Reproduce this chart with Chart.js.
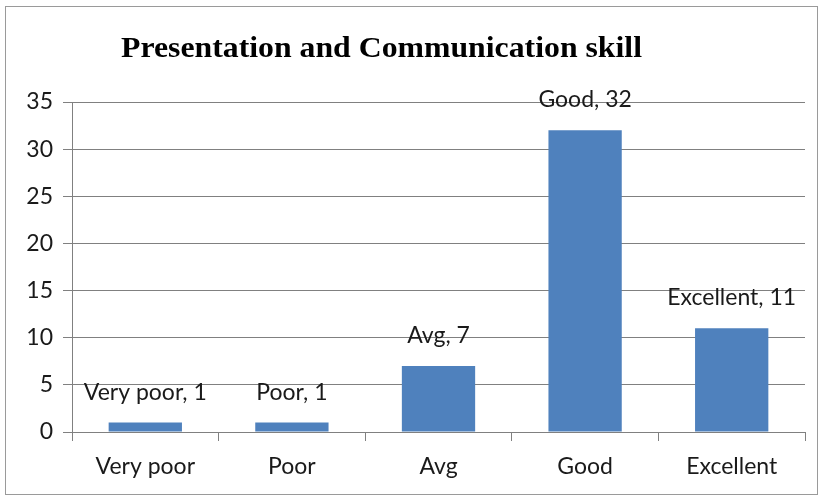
<!DOCTYPE html>
<html>
<head>
<meta charset="utf-8">
<script src="https://cdn.jsdelivr.net/npm/chart.js@4"></script>
<style>
  body { margin: 0; background: #fff; }
</style>
</head>
<body>
<canvas id="skill" width="823" height="500"></canvas>
<script>
let categories = ['Very poor', 'Poor', 'Avg', 'Good', 'Excellent'];
let counts = [1, 1, 7, 32, 11];
let yTicks = [0, 5, 10, 15, 20, 25, 30, 35];
let chartTitle = 'Presentation and Communication skill';

let labelFont = '23px Lato';

// frame, title and "Name, value" labels above bars
let extras = {
    id: 'extras',
    beforeDraw: function (chart) {
        let ctx = chart.ctx;
        ctx.save();
        ctx.fillStyle = '#fff';
        ctx.fillRect(0, 0, chart.width, chart.height);
        ctx.strokeStyle = '#9a9a9a';
        ctx.lineWidth = 1;
        ctx.strokeRect(5.5, 6.5, 812, 488);
        ctx.restore();
    },
    afterDraw: function (chart) {
        let ctx = chart.ctx;
        ctx.save();
        ctx.font = 'bold 30px "Liberation Serif"';
        ctx.fillStyle = '#000';
        ctx.textBaseline = 'alphabetic';
        let w = ctx.measureText(chartTitle).width;
        let sx = 521 / w;
        ctx.translate(121, 57);
        ctx.scale(sx, 1);
        ctx.fillText(chartTitle, 0, 0);
        ctx.restore();

        ctx.save();
        ctx.font = labelFont;
        ctx.fillStyle = '#1a1a1a';
        ctx.textAlign = 'center';
        ctx.textBaseline = 'alphabetic';
        chart.getDatasetMeta(0).data.forEach(function (bar, i) {
            ctx.fillText(categories[i] + ', ' + counts[i], bar.x, bar.y - 23);
        });
        ctx.restore();
    }
};

let ctxSkill = document.getElementById('skill').getContext('2d');
let skillChart = new Chart(ctxSkill, {
    type: 'bar',
    data: {
        labels: categories,
        datasets: [{
            label: chartTitle,
            data: counts,
            backgroundColor: '#4f81bd',
            barPercentage: 0.5,
            categoryPercentage: 1
        }]
    },
    options: {
        responsive: false,
        animation: false,
        layout: {
            padding: { top: 102, right: 18, left: 0, bottom: 0 }
        },
        plugins: {
            legend: { display: false },
            title: { display: false },
            tooltip: { enabled: false }
        },
        scales: {
            x: {
                afterFit: function (scale) { scale.height = 68; },
                grid: {
                    offset: true,
                    drawOnChartArea: false,
                    tickLength: 9,
                    color: '#808080'
                },
                border: { color: '#808080' },
                ticks: {
                    color: '#1a1a1a',
                    font: { family: 'Lato', size: 23 },
                    padding: 12
                }
            },
            y: {
                min: 0,
                max: 35,
                afterFit: function (scale) { scale.width = 72; },
                afterBuildTicks: function (scale) {
                    scale.ticks = yTicks.map(function (v) { return { value: v }; });
                },
                grid: {
                    color: '#808080',
                    tickLength: 9
                },
                border: { color: '#808080' },
                ticks: {
                    color: '#1a1a1a',
                    font: { family: 'Lato', size: 23 },
                    padding: 10
                }
            }
        }
    },
    plugins: [extras]
});
</script>
</body>
</html>
